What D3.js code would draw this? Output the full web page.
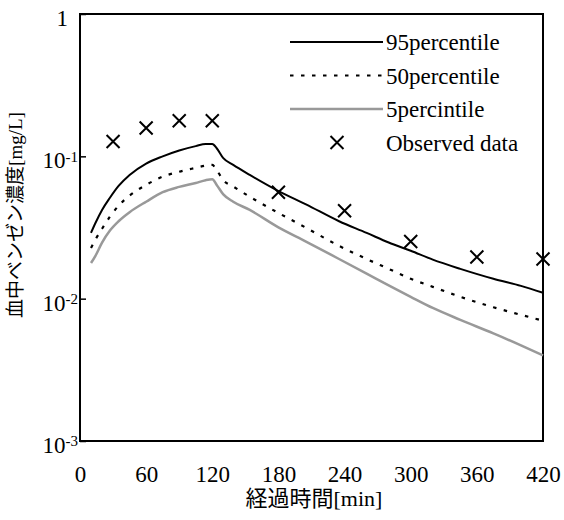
<!DOCTYPE html>
<html>
<head>
<meta charset="utf-8">
<script src="https://cdn.jsdelivr.net/npm/d3@7"></script>
<style>
  body { margin: 0; background: #fff; }
  .chart text { font-family: "Liberation Serif", "Noto Sans CJK JP", serif; fill: #000; }
</style>
</head>
<body>
<div class="chart"></div>
<script>
// data
const simTimes = [10, 14, 20, 27, 35, 45, 60, 75, 90, 105, 114, 120, 124, 130, 139, 154, 180, 205, 235, 260, 280, 300, 320, 345, 375, 400, 420];
const p95 = [0.029, 0.034, 0.042, 0.051, 0.062, 0.074, 0.089, 0.100, 0.110, 0.118, 0.122, 0.122, 0.114, 0.097, 0.087, 0.074, 0.057, 0.046, 0.035, 0.029, 0.0248, 0.0217, 0.0188, 0.0162, 0.0138, 0.0123, 0.011];
const p50 = [0.0227, 0.026, 0.031, 0.0375, 0.045, 0.053, 0.063, 0.072, 0.078, 0.083, 0.086, 0.087, 0.080, 0.068, 0.0614, 0.052, 0.040, 0.0315, 0.0235, 0.019, 0.0162, 0.0138, 0.0121, 0.0103, 0.0087, 0.0077, 0.0070];
const p5 = [0.0178, 0.020, 0.0248, 0.030, 0.035, 0.0405, 0.048, 0.056, 0.061, 0.065, 0.068, 0.069, 0.063, 0.054, 0.048, 0.042, 0.0317, 0.0252, 0.019, 0.015, 0.0124, 0.0103, 0.0086, 0.0071, 0.0057, 0.0047, 0.0040];
const obsTimes = [30, 60, 90, 120, 180, 240, 300, 360, 420];
const obsValues = [0.127, 0.158, 0.178, 0.178, 0.056, 0.0415, 0.0252, 0.0196, 0.019];
const xTicks = [0, 60, 120, 180, 240, 300, 360, 420];
const yTicks = [0.001, 0.01, 0.1, 1];
const legendNames = ["95percentile", "50percentile", "5percintile", "Observed data"];

const width = 564, height = 520;
const margin = { top: 14, right: 21, bottom: 79, left: 80 };
const w = width - margin.left - margin.right;
const h = height - margin.top - margin.bottom;

const svg = d3.select(".chart").append("svg")
  .attr("width", width)
  .attr("height", height);

const g = svg.append("g")
  .attr("transform", `translate(${margin.left},${margin.top})`);

const x = d3.scaleLinear().domain([0, 420]).range([0, w]);
const y = d3.scaleLog().domain([0.001, 1]).range([h, 0]);

// axes
const xAxis = g.append("g")
  .attr("transform", `translate(0,${h})`)
  .call(d3.axisBottom(x).tickValues(xTicks).tickSize(0).tickPadding(25));
xAxis.select(".domain").remove();
xAxis.selectAll("text").style("font-size", "23px");

const yAxis = g.append("g")
  .call(d3.axisLeft(y).tickValues(yTicks).tickSizeInner(-6).tickSizeOuter(0).tickPadding(2).tickFormat(""));
yAxis.select(".domain").remove();
yAxis.selectAll("line").attr("stroke", "#000").attr("stroke-width", 1.5);
yAxis.selectAll(".tick text").each(function (d) {
  const t = d3.select(this).attr("dy", "0.5em").style("font-size", "23px");
  const e = Math.round(Math.log10(d));
  if (e === 0) {
    t.attr("x", -12).text("1");
  } else {
    t.text("10");
    t.append("tspan").attr("dy", "-0.45em").style("font-size", "15px").text(e);
  }
});

// frame
g.append("rect")
  .attr("width", w)
  .attr("height", h)
  .attr("fill", "none")
  .attr("stroke", "#000")
  .attr("stroke-width", 2);

// lines
const series = [
  { values: p95, color: "#000", width: 2, dash: null },
  { values: p50, color: "#000", width: 2.2, dash: "3.5,7.5" },
  { values: p5, color: "#999", width: 2.5, dash: null }
];

const line = d3.line()
  .x((d, i) => x(simTimes[i]))
  .y((d) => y(d))
  .curve(d3.curveMonotoneX);

series.forEach((s) => {
  g.append("path")
    .datum(s.values)
    .attr("fill", "none")
    .attr("stroke", s.color)
    .attr("stroke-width", s.width)
    .attr("stroke-dasharray", s.dash)
    .attr("d", line);
});

// observed markers
const cross = d3.symbol().type(d3.symbolX).size(112);
g.append("g")
  .selectAll("path")
  .data(obsValues)
  .enter()
  .append("path")
  .attr("d", cross)
  .attr("transform", (d, i) => `translate(${x(obsTimes[i])},${y(d)})`)
  .attr("fill", "none")
  .attr("stroke", "#000")
  .attr("stroke-width", 2);

// legend
const legend = svg.append("g").attr("transform", "translate(290,42)");
legendNames.forEach((name, i) => {
  const row = legend.append("g").attr("transform", `translate(0,${i * 33.5})`);
  if (i < 3) {
    row.append("line")
      .attr("x1", 0).attr("x2", 93)
      .attr("stroke", series[i].color)
      .attr("stroke-width", series[i].width)
      .attr("stroke-dasharray", series[i].dash);
  } else {
    row.append("path")
      .attr("d", cross)
      .attr("transform", "translate(47,0)")
      .attr("fill", "none")
      .attr("stroke", "#000")
      .attr("stroke-width", 2);
  }
  row.append("text")
    .attr("x", 96)
    .attr("dy", "0.35em")
    .style("font-size", "23px")
    .text(name);
});

// axis titles
svg.append("text")
  .attr("x", 314)
  .attr("y", 506)
  .attr("text-anchor", "middle")
  .style("font-size", "22px")
  .text("経過時間[min]");

svg.append("text")
  .attr("transform", "translate(22,215) rotate(-90)")
  .attr("text-anchor", "middle")
  .style("font-size", "19px")
  .text("血中ベンゼン濃度[mg/L]");
</script>
</body>
</html>
